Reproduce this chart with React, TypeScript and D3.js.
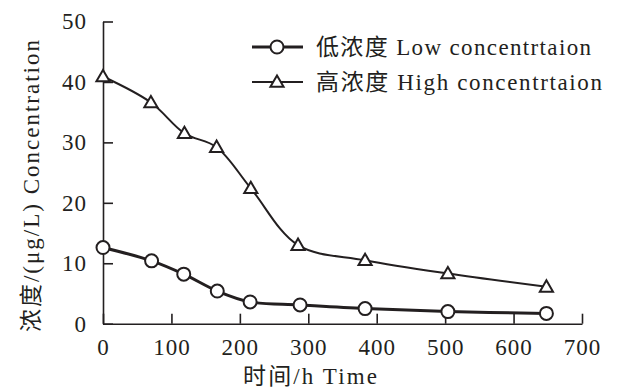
import { useEffect, useRef } from 'react';
import * as d3 from 'd3';

const timeLow = [0, 71, 118, 167, 215, 288, 383, 504, 648];
const lowValues = [12.6, 10.4, 8.2, 5.4, 3.6, 3.1, 2.5, 2.0, 1.7];
const timeHigh = [0, 70, 119, 166, 216, 285, 383, 504, 648];
const highValues = [40.9, 36.6, 31.5, 29.2, 22.4, 13.0, 10.5, 8.3, 6.1];
const xTicks = [0, 100, 200, 300, 400, 500, 600, 700];
const yTicks = [0, 10, 20, 30, 40, 50];
const legendLabels = ['低浓度 Low concentrtaion', '高浓度 High concentrtaion'];

const FONT = "'Times New Roman', 'Liberation Serif', 'Noto Sans CJK SC', serif";
const INK = '#231f20';

export default function App() {
  const svgRef = useRef<SVGSVGElement>(null);

  useEffect(() => {
    if (!svgRef.current) return;
    const svg = d3.select(svgRef.current);
    svg.selectAll('*').remove();

    const width = 619;
    const height = 392;
    const margin = { top: 21.5, right: 37, bottom: 68.3, left: 103 };
    const innerWidth = width - margin.left - margin.right;
    const innerHeight = height - margin.top - margin.bottom;

    svg.attr('width', width).attr('height', height);
    svg.append('rect').attr('width', width).attr('height', height).attr('fill', '#fff');

    const g = svg.append('g').attr('transform', `translate(${margin.left}, ${margin.top})`);

    const x = d3.scaleLinear().domain([0, 700]).range([0, innerWidth]);
    const y = d3.scaleLinear().domain([0, 50]).range([innerHeight, 0]);

    // axes, ticks pointing inward
    const yAxis = g.append('g')
      .call(d3.axisLeft(y).tickValues(yTicks).tickSizeInner(-10).tickSizeOuter(0).tickPadding(16));
    const xAxis = g.append('g')
      .attr('transform', `translate(0, ${innerHeight})`)
      .call(d3.axisBottom(x).tickValues(xTicks).tickSizeInner(-10).tickSizeOuter(0).tickPadding(12));

    [yAxis, xAxis].forEach(ax => {
      ax.selectAll('path, line').attr('stroke', INK).attr('stroke-width', 1.6);
      ax.selectAll('text')
        .attr('fill', INK)
        .style('font-family', FONT)
        .style('font-size', '23px')
        .style('letter-spacing', '1px');
    });
    xAxis.selectAll('text').attr('dy', '0.85em');

    const line = d3.line<[number, number]>()
      .x(d => x(d[0]))
      .y(d => y(d[1]))
      .curve(d3.curveCatmullRom.alpha(0.5));

    const lowData: [number, number][] = timeLow.map((t, i) => [t, lowValues[i]]);
    const highData: [number, number][] = timeHigh.map((t, i) => [t, highValues[i]]);

    g.append('path').datum(highData)
      .attr('d', line).attr('fill', 'none').attr('stroke', INK).attr('stroke-width', 2);
    g.append('path').datum(lowData)
      .attr('d', line).attr('fill', 'none').attr('stroke', INK).attr('stroke-width', 3);

    const tri = d3.symbol().type(d3.symbolTriangle).size(75);

    g.selectAll('.tri').data(highData).enter()
      .append('path')
      .attr('class', 'tri')
      .attr('d', tri)
      .attr('transform', d => `translate(${x(d[0])}, ${y(d[1]) + 1})`)
      .attr('fill', '#fff').attr('stroke', INK).attr('stroke-width', 2);

    g.selectAll('.dot').data(lowData).enter()
      .append('circle')
      .attr('class', 'dot')
      .attr('cx', d => x(d[0])).attr('cy', d => y(d[1]))
      .attr('r', 6.5)
      .attr('fill', '#fff').attr('stroke', INK).attr('stroke-width', 2);

    // legend
    const legend = svg.append('g');
    const rows = [47, 82];
    const rowLengths = [275, 286];
    rows.forEach((ly, i) => {
      legend.append('line')
        .attr('x1', 252).attr('x2', 303).attr('y1', ly).attr('y2', ly)
        .attr('stroke', INK).attr('stroke-width', i === 0 ? 3 : 2);
      if (i === 0) {
        legend.append('circle').attr('cx', 277).attr('cy', ly).attr('r', 6.5)
          .attr('fill', '#fff').attr('stroke', INK).attr('stroke-width', 2);
      } else {
        legend.append('path').attr('d', tri)
          .attr('transform', `translate(277, ${ly + 1})`)
          .attr('fill', '#fff').attr('stroke', INK).attr('stroke-width', 2);
      }
      legend.append('text')
        .attr('x', 316).attr('y', ly)
        .attr('dy', '0.35em')
        .attr('textLength', rowLengths[i])
        .attr('lengthAdjust', 'spacing')
        .attr('fill', INK)
        .style('font-family', FONT)
        .style('font-size', '23px')
        .text(legendLabels[i]);
    });

    // axis titles
    svg.append('text')
      .attr('x', 243).attr('y', 384)
      .attr('textLength', 134)
      .attr('lengthAdjust', 'spacing')
      .attr('fill', INK)
      .style('font-family', FONT)
      .style('font-size', '23px')
      .text('时间/h Time');

    svg.append('text')
      .attr('transform', 'translate(39, 332) rotate(-90)')
      .attr('textLength', 292)
      .attr('lengthAdjust', 'spacing')
      .attr('fill', INK)
      .style('font-family', FONT)
      .style('font-size', '23px')
      .text('浓度/(μg/L) Concentration');
  }, []);

  return <svg ref={svgRef} style={{ position: 'absolute', left: 0, top: 0 }}></svg>;
}
